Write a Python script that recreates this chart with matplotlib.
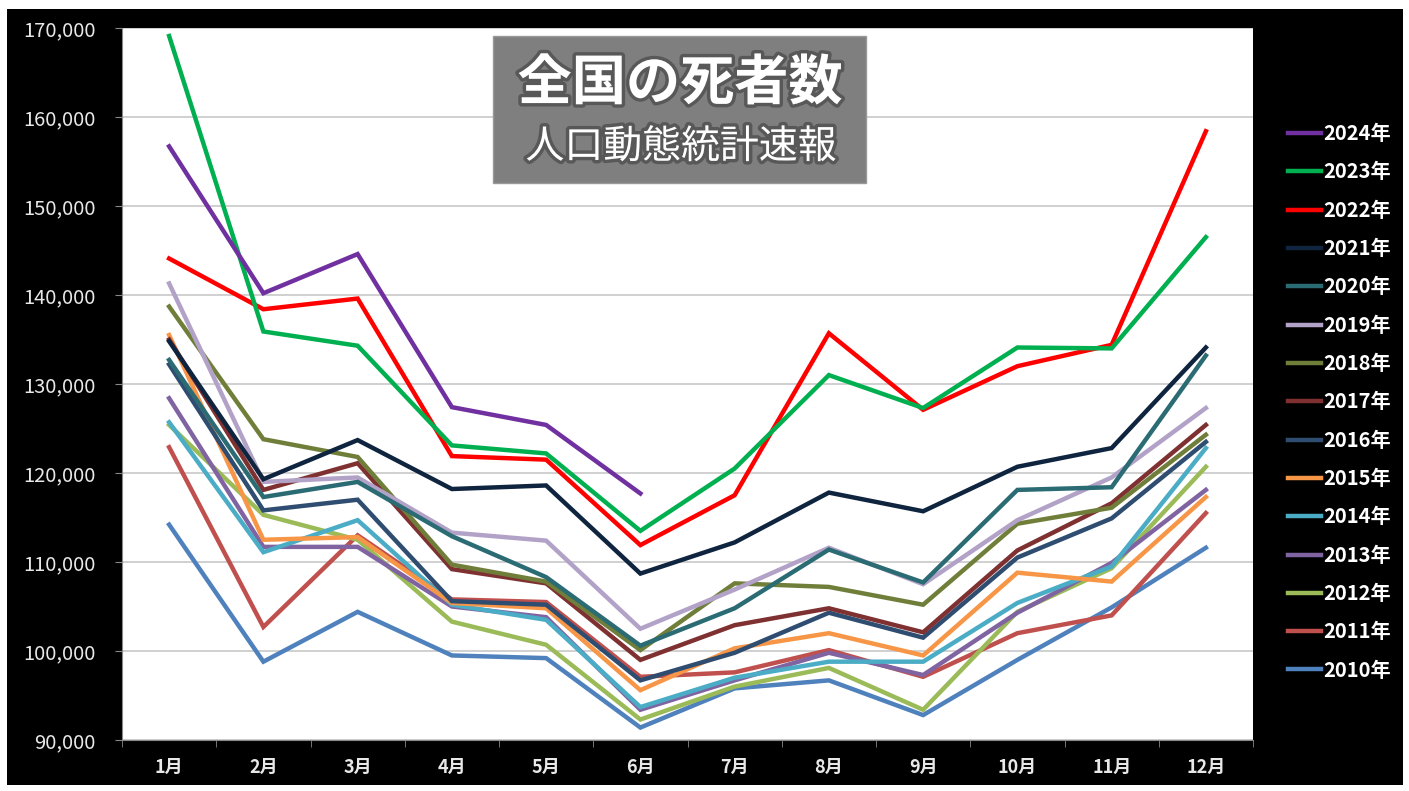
import matplotlib
matplotlib.use("Agg")
import matplotlib.pyplot as plt
import matplotlib.patheffects as pe
from matplotlib.patches import Rectangle
from matplotlib.ticker import FuncFormatter, FixedLocator

plt.rcParams['font.family'] = ['Noto Sans CJK JP', 'DejaVu Sans']

# Monthly death counts
months = ['1月', '2月', '3月', '4月', '5月', '6月', '7月', '8月', '9月', '10月', '11月', '12月']

d2024 = [156700, 140200, 144600, 127400, 125400, 117700]
d2023 = [169100, 135900, 134300, 123100, 122200, 113500, 120500, 131000, 127300, 134100, 134000, 146500]
d2022 = [144100, 138400, 139600, 121900, 121500, 111900, 117500, 135700, 127100, 132000, 134400, 158400]
d2021 = [134800, 119300, 123700, 118200, 118600, 108700, 112200, 117800, 115700, 120700, 122800, 134100]
d2020 = [132700, 117300, 119000, 112900, 108300, 100600, 104800, 111400, 107700, 118100, 118400, 133200]
d2019 = [141300, 119000, 119500, 113300, 112400, 102500, 106900, 111600, 107500, 114700, 119500, 127300]
d2018 = [138700, 123800, 121800, 109700, 107800, 100100, 107600, 107200, 105200, 114300, 116100, 124300]
d2017 = [135000, 118100, 121100, 109200, 107600, 99000, 102900, 104800, 102100, 111300, 116600, 125400]
d2016 = [132200, 115800, 117000, 105600, 105200, 96700, 99800, 104300, 101500, 110500, 114900, 123500]
d2015 = [135500, 112500, 112800, 105400, 104800, 95600, 100300, 102000, 99500, 108800, 107800, 117300]
d2014 = [125700, 111100, 114700, 105200, 103500, 93700, 97000, 98800, 98800, 105400, 109500, 122800]
d2013 = [128400, 111700, 111700, 105000, 103800, 93400, 96700, 99800, 97300, 104300, 109900, 118100]
d2012 = [125400, 115300, 112500, 103300, 100700, 92300, 96000, 98100, 93400, 104400, 109300, 120700]
d2011 = [122900, 102700, 113000, 105800, 105500, 97100, 97600, 100100, 97100, 102000, 104000, 115500]
d2010 = [114200, 98800, 104400, 99500, 99200, 91400, 95800, 96700, 92800, 99000, 104900, 111600]

years = ['2024年', '2023年', '2022年', '2021年', '2020年', '2019年', '2018年', '2017年',
         '2016年', '2015年', '2014年', '2013年', '2012年', '2011年', '2010年']
series = [d2024, d2023, d2022, d2021, d2020, d2019, d2018, d2017,
          d2016, d2015, d2014, d2013, d2012, d2011, d2010]
colors = ['#7030A0', '#00B050', '#FF0000', '#0F243E', '#2B6B73', '#B3A2C7', '#6F7F3A', '#7F3030',
          '#2F4D70', '#F79646', '#4BACC6', '#8064A2', '#9BBB59', '#C0504D', '#4F81BD']

fig = plt.figure(figsize=(14.09, 7.91), dpi=100)
fig.patch.set_facecolor('white')
fig.add_artist(Rectangle((7 / 1409, 6 / 791), 1396 / 1409, 776 / 791,
                         transform=fig.transFigure, facecolor='black',
                         edgecolor='none', zorder=-10))

ax = fig.add_axes([122 / 1409, 51 / 791, 1131 / 1409, 712 / 791])
ax.set_zorder(1)
ax.set_facecolor('white')

lines = []
for i in range(len(series) - 1, -1, -1):
    vals = series[i]
    ln, = ax.plot(range(len(vals)), vals, color=colors[i], lw=3.2,
                  solid_joinstyle='miter', zorder=3 + (len(series) - i) * 0.01)
    lines.append((i, ln))

ax.set_xlim(-0.5, 11.5)
ax.set_ylim(90000, 170000)
ax.set_yticks(range(90000, 170001, 10000))
ax.yaxis.set_major_formatter(FuncFormatter(lambda v, p: f'{int(v):,}'))
ax.grid(axis='y', color='#C8C8C8', lw=1.2, zorder=1)

ax.set_xticks(range(12))
ax.set_xticklabels(months, fontsize=13, fontweight='bold', color='#E8E8E8')
ax.xaxis.set_minor_locator(FixedLocator([k + 0.5 for k in range(-1, 12)]))
ax.tick_params(axis='x', which='major', length=0, pad=13)
ax.tick_params(axis='x', which='minor', length=5, color='#888888')
ax.tick_params(axis='y', length=5, color='#888888', labelsize=14.5, labelcolor='#E8E8E8', pad=14)

for s in ['top', 'right']:
    ax.spines[s].set_visible(False)
ax.spines['left'].set_color('#888888')
ax.spines['bottom'].set_color('#888888')

# title box
fig.add_artist(Rectangle((493 / 1409, (791 - 183) / 791), 373 / 1409, 147 / 791,
                         transform=fig.transFigure, facecolor='#7F7F7F',
                         edgecolor='#999999', lw=1, zorder=5))
shadow = [pe.Stroke(linewidth=5, foreground='#333333', alpha=0.5), pe.Normal()]
fig.text(680 / 1409, 1 - 84 / 791, '全国の死者数', fontsize=39, fontweight='bold',
         color='white', ha='center', va='center', zorder=6, path_effects=shadow)
fig.text(681 / 1409, 1 - 147 / 791, '人口動態統計速報', fontsize=28,
         color='white', ha='center', va='center', zorder=6, path_effects=shadow)

# legend
handles = [ln for i, ln in sorted(lines)]
leg = ax.legend(handles, years, loc='upper left', bbox_to_anchor=(1278 / 1409, 1 - 113 / 791),
                bbox_transform=fig.transFigure, frameon=False, fontsize=14.5,
                handlelength=1.65, handletextpad=0.1, labelspacing=0.86, borderpad=0)
for t in leg.get_texts():
    t.set_color('white')
    t.set_fontweight('bold')

fig.savefig('out.png', dpi=100, facecolor=fig.get_facecolor())
